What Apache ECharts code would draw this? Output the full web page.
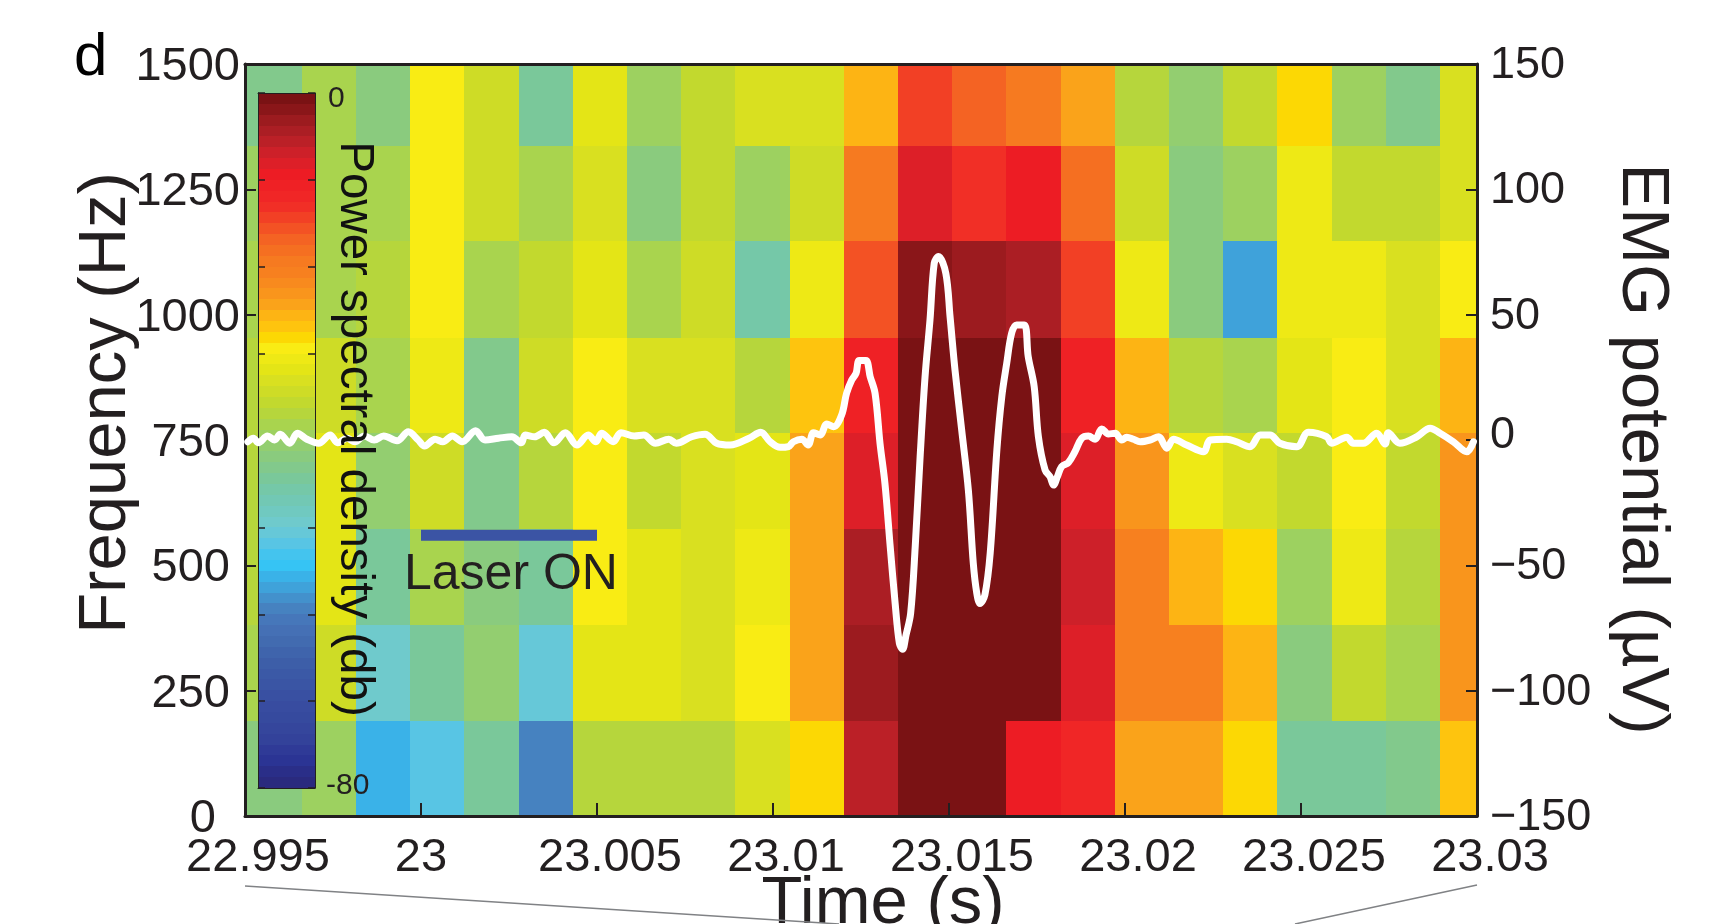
<!DOCTYPE html>
<html>
<head>
<meta charset="utf-8">
<style>html,body{margin:0;padding:0;background:#fff;overflow:hidden}#c{width:1733px;height:924px}</style>
<script src="https://cdn.jsdelivr.net/npm/echarts@6/dist/echarts.min.js"></script>
</head>
<body>
<div id="c"></div>
<script>
// Bin edges of the spectrogram
const timeEdges = [22.995,22.99661,22.99815,22.99969,23.00123,23.00277,23.00431,23.00585,23.00739,23.00893,23.01047,23.01201,23.01355,23.01509,23.01663,23.01817,23.01971,23.02125,23.02279,23.02433,23.02587,23.02741,23.02895,23.03];
const freqEdges = [0,190,381,572,763,954,1146,1337,1500];

// Power (dB) per frequency row, lowest row first, one value per time bin
const power0 = [-41.9,-39,-55.6,-52,-44,-59,-37,-37,-37,-33,-28.1,-5.6,-.6,-.6,-9.4,-12,-24.4,-24.4,-28.1,-44.4,-44.4,-42.5,-26.9];
const power1 = [-38,-34.4,-49.4,-44,-40.6,-50.6,-31.9,-31.9,-32.5,-29.4,-24,-3.1,-.6,-.6,-.6,-8,-21,-21,-25.6,-42,-35.6,-38,-23];
const power2 = [-37,-31.9,-44,-38,-41.5,-44,-29.4,-31.9,-32.5,-30.6,-24.4,-4.4,-.6,-.6,-.6,-6.9,-21,-25.6,-28.1,-39.4,-30.6,-37,-23];
const power3 = [-37,-31.9,-40.6,-34.4,-43,-37,-29.4,-35,-33,-31.9,-24.4,-8,-.6,-.6,-.6,-8,-23,-30.6,-33,-35.6,-29.4,-35.6,-23];
const power4 = [-37,-34,-38,-30,-43,-34.4,-29.4,-33,-33,-37,-26.9,-10.6,-.6,-.6,-.6,-10.6,-25.6,-37,-38,-31.9,-29.4,-33,-25.6];
const power5 = [-38,-38,-37,-29.4,-38,-35.6,-31.5,-38.5,-34.4,-45.6,-30.6,-15.6,-2,-3.1,-4.4,-14,-30.6,-42,-57,-30.6,-30.6,-33,-29.4];
const power6 = [-39,-38,-38,-29.4,-34.4,-38,-33,-42,-35.6,-39.4,-34,-19.4,-8,-12.5,-9.4,-18,-34.4,-42,-39.4,-30.6,-35.6,-35.6,-33];
const power7 = [-42.5,-38,-41.9,-29.4,-34.4,-44.4,-31.5,-39,-35.6,-33,-33,-25.6,-13.8,-17,-19.4,-24.4,-36.9,-40,-35.6,-28.1,-39.4,-43,-33];
const powerRows = [power0,power1,power2,power3,power4,power5,power6,power7];

// Colour bar bands, from 0 dB downward, 1.25 dB each
const colormap = ['#7a1214','#8a1619','#9c1b1f','#ab1e24','#bb2027','#cd2029','#dd1f28','#ed1c24',
'#ef2125','#f02626','#f12f26','#f24025','#f35224','#f46323','#f56f21','#f67a20',
'#f7801f','#f88a1e','#f9951c','#faa31a','#fdb414','#fec40e','#fcd804','#f9ec14',
'#eee915','#e4e516','#d9e020','#cedc26','#c2d92e','#b6d63c','#a9d44e','#9dd160',
'#93ce70','#8acb7e','#82c98c','#7ac89a','#75c8a8','#72c8b4','#70c9c0','#6fcacc',
'#66c8d8','#58c5e4','#44c4ee','#36c4f4','#3ab2e8','#3fa2da','#4391cc','#4682c0',
'#4677ba','#4570b5','#426bb0','#3f64ac','#3d5ea8','#3b59a6','#3a55a4','#3950a2',
'#384ca0','#364a9e','#35469c','#33429a','#2f3a97','#2b3494','#2a2e88','#2a2a7e'];
const bandStep = 1.25;

// EMG trace
const emgTime = [22.99508,22.99524,22.99538,22.99564,22.99584,22.996,22.99627,22.99649,22.99676,22.99709,22.99742,22.99763,22.9979,22.99812,22.99839,22.99867,22.99894,22.99932,22.99964,22.99992,23.0001,23.0004,23.00062,23.00089,23.00117,23.00155,23.00182,23.0022,23.00258,23.00285,23.00296,23.00323,23.0035,23.00378,23.0041,23.00443,23.00475,23.00497,23.00513,23.00546,23.00568,23.00606,23.00633,23.00666,23.00704,23.00725,23.00769,23.00807,23.0084,23.00878,23.00932,23.00965,23.00992,23.0102,23.01044,23.01058,23.01082,23.011,23.01115,23.01134,23.01153,23.01172,23.01195,23.01209,23.01224,23.01236,23.01245,23.01264,23.01276,23.0129,23.01304,23.01318,23.01333,23.01347,23.01359,23.01368,23.01378,23.01391,23.01404,23.01418,23.01432,23.01446,23.01458,23.0147,23.01491,23.01503,23.01517,23.01536,23.01555,23.01569,23.01579,23.01588,23.01602,23.01617,23.01636,23.0165,23.01664,23.01678,23.01692,23.01714,23.01725,23.01742,23.01754,23.01773,23.01787,23.01797,23.01808,23.0182,23.01839,23.01858,23.01877,23.01896,23.01915,23.01934,23.01953,23.01972,23.01991,23.02005,23.02024,23.02043,23.02071,23.02095,23.02119,23.02138,23.02175,23.02223,23.02242,23.02289,23.02317,23.02355,23.02384,23.02412,23.0244,23.02488,23.02521,23.02573,23.02587,23.0263,23.02649,23.02677,23.02715,23.02739,23.02748,23.02781,23.02829,23.02867,23.02895,23.02933,23.02971,23.0299];
const emgValue = [-.7,.7,-1.1,1.6,0,2.3,-1.3,2.7,.3,-1.3,2,-1.1,.7,-.7,1.6,0,1.6,-.3,3.3,0,-2.4,.3,-.7,1.6,-.7,3.7,0,.7,1.3,-1.1,2,1.3,3.1,-1.1,2.9,-2,2,-.7,2.7,-.7,2.9,1.6,2,-1.3,.3,-1.3,1.3,2.3,-1.3,-2,.7,3.1,-.7,-2.9,-2.6,-.7,.3,-2,2.9,2,6.4,5.3,10,18.6,24,26.6,31.7,31.7,25.3,18.6,-1.3,-17.3,-42.6,-65.2,-81.1,-83.5,-77.8,-69.2,-42.6,-6.6,25.3,47.9,70.5,73.2,66.5,49.2,28,4,-20,-49.2,-61.2,-65.2,-61.8,-45.2,-4,17.3,30.6,42.6,45.9,45.9,33.3,21.3,1.3,-12,-14.6,-18,-14.6,-10.6,-9,-4.6,.7,1.6,.3,4.4,2.4,2.7,0,1.1,.3,-.7,0,1.3,-3.3,.3,-2,-4.7,0,.3,-.7,-2.7,2,2,-1.3,-2.7,3.1,1.3,-1.3,1.1,-1.3,-1.3,2.7,-1.6,2.9,-1.3,1.3,4.7,2.7,-.7,-4.7,-.7];

// Laser pulse
const laserTime = [23,23.005];
const laserFreq = [560,560];

// Text
const freqLabel = 'Frequency (Hz)';
const emgLabel = 'EMG potential (µV)';
const timeLabel = 'Time (s)';
const powerLabel = 'Power spectral density (db)';
const laserLabel = 'Laser ON';
const panelLabel = 'd';

const ink = '#231f20';
const font = '"Liberation Sans", Arial, sans-serif';

const cellData = [];
powerRows.forEach((row, r) => row.forEach((v, c) => {
  cellData.push([timeEdges[c], timeEdges[c+1], freqEdges[r], freqEdges[r+1], v]);
}));
const barData = colormap.map((col, i) => [0, 1, -(i+1)*bandStep, -i*bandStep, i]);

function bandOf(v){ return colormap[Math.min(colormap.length-1, Math.floor(-v/bandStep))]; }

function renderCell(params, api){
  const p0 = api.coord([api.value(0), api.value(2)]);
  const p1 = api.coord([api.value(1), api.value(3)]);
  const x0 = Math.round(p0[0]), x1 = Math.round(p1[0]), y0 = Math.round(p0[1]), y1 = Math.round(p1[1]);
  return {type:'rect', shape:{x:x0, y:y1, width:x1-x0, height:y0-y1}, style:{fill:bandOf(api.value(4))}};
}
function renderBand(params, api){
  const p0 = api.coord([api.value(0), api.value(2)]);
  const p1 = api.coord([api.value(1), api.value(3)]);
  const y0 = Math.round(p0[1]), y1 = Math.round(p1[1]);
  return {type:'rect', shape:{x:p0[0], y:y1, width:p1[0]-p0[0], height:y0-y1}, style:{fill:colormap[api.value(4)]}};
}

const mainLine = {show:true, onZero:false, lineStyle:{color:ink, width:3}};
const option = {
  animation:false,
  backgroundColor:'#fff',
  textStyle:{fontFamily:font, color:ink},
  grid:[
    {left:245, top:64, width:1232, height:752, outerBoundsMode:'none'},
    {left:258, top:93, width:57, height:695, outerBoundsMode:'none'}
  ],
  xAxis:[
    {type:'value', gridIndex:0, position:'bottom', min:22.995, max:23.03, interval:0.005, z:4,
     axisLine:mainLine, axisTick:{show:true, inside:true, length:13, lineStyle:{color:ink, width:2}},
     splitLine:{show:false},
     axisLabel:{show:true, fontSize:47, color:ink, fontFamily:font, margin:19, hideOverlap:false,
       formatter:v => {const s = String(+v.toFixed(3)); return s === '23' ? s : '{o|'+s+'}';},
       rich:{o:{padding:[0,0,0,26]}}},
     name:timeLabel, nameLocation:'middle', nameGap:55, nameMoveOverlap:false,
     nameTextStyle:{fontSize:67, color:ink, fontFamily:font, padding:[0,0,0,44]}},
    {type:'value', gridIndex:0, position:'top', min:22.995, max:23.03, z:4,
     axisLine:mainLine, axisTick:{show:false}, axisLabel:{show:false}, splitLine:{show:false}},
    {type:'value', gridIndex:1, position:'bottom', min:0, max:1, z:3,
     axisLine:{show:true, onZero:false, lineStyle:{color:ink, width:1}}, axisTick:{show:false}, axisLabel:{show:false}, splitLine:{show:false}},
    {type:'value', gridIndex:1, position:'top', min:0, max:1, z:3,
     axisLine:{show:true, onZero:false, lineStyle:{color:ink, width:1}}, axisTick:{show:false}, axisLabel:{show:false}, splitLine:{show:false}}
  ],
  yAxis:[
    {type:'value', gridIndex:0, position:'left', min:0, max:1500, interval:250, z:4,
     axisLine:mainLine, axisTick:{show:true, inside:true, length:11, lineStyle:{color:ink, width:2}},
     splitLine:{show:false},
     axisLabel:{show:true, fontSize:47, color:ink, fontFamily:font, margin:5,
       formatter:v => v >= 1000 ? '{k|'+v+'}' : (v === 0 ? '{z|0}' : '{w|'+v+'}'),
       rich:{k:{padding:[6,0,0,0]}, w:{padding:[6,10,0,0]}, z:{padding:[6,24,0,0]}}},
     name:freqLabel, nameLocation:'middle', nameGap:105, nameRotate:90, nameMoveOverlap:false,
     nameTextStyle:{fontSize:67, color:ink, fontFamily:font, padding:[0,0,0,74]}},
    {type:'value', gridIndex:0, position:'right', min:-150, max:150, interval:50, z:4,
     axisLine:mainLine, axisTick:{show:true, inside:true, length:11, lineStyle:{color:ink, width:2}},
     splitLine:{show:false},
     axisLabel:{show:true, fontSize:45, color:ink, fontFamily:font, margin:13,
       formatter:v => v === 0 ? '{u|0}' : '{n|'+String(v).replace('-', '\u2212')+'}',
       rich:{u:{padding:[0,0,8,0]}, n:{padding:[3,0,0,0]}}},
     name:emgLabel, nameLocation:'middle', nameGap:131, nameRotate:-90, nameMoveOverlap:false,
     nameTextStyle:{fontSize:67, color:ink, fontFamily:font, padding:[0,0,0,18]}},
    {type:'value', gridIndex:1, position:'left', min:-80, max:0, interval:10, z:3,
     axisLine:{show:true, onZero:false, lineStyle:{color:ink, width:1}},
     axisTick:{show:true, inside:true, length:7, lineStyle:{color:ink, width:1.5}},
     axisLabel:{show:false}, splitLine:{show:false}},
    {type:'value', gridIndex:1, position:'right', min:-80, max:0, interval:10, z:3,
     axisLine:{show:true, onZero:false, lineStyle:{color:ink, width:1}},
     axisTick:{show:true, inside:true, length:7, lineStyle:{color:ink, width:1.5}},
     axisLabel:{show:true, fontSize:30, color:'#111', fontFamily:font, margin:11,
       formatter:v => v === 0 ? '{t|0}' : (v === -80 ? '{b|-80}' : ''),
       rich:{t:{padding:[12,0,0,2]}, b:{padding:[0,0,4,0]}}},
     splitLine:{show:false}}
  ],
  series:[
    {type:'custom', name:'Power', xAxisIndex:0, yAxisIndex:0, z:1, silent:true,
     renderItem:renderCell, data:cellData, encode:{x:[0,1], y:[2,3]}, clip:true},
    {type:'custom', name:'Colour bar', xAxisIndex:2, yAxisIndex:2, z:2, silent:true,
     renderItem:renderBand, data:barData, encode:{x:[0,1], y:[2,3]}},
    {type:'line', name:'Laser', xAxisIndex:0, yAxisIndex:0, z:5, symbol:'none', silent:true,
     data:laserTime.map((t,i)=>[t, laserFreq[i]]),
     lineStyle:{color:'#3b54a4', width:11, cap:'butt'}},
    {type:'line', name:'EMG', xAxisIndex:0, yAxisIndex:1, z:6, symbol:'none', silent:true, smooth:0.35,
     data:emgTime.map((t,i)=>[t, emgValue[i]]),
     lineStyle:{color:'#fff', width:7, cap:'round', join:'round'}}
  ],
  graphic:[
    {type:'text', z:20, left:74, top:28, style:{text:panelLabel, font:'60px '+font, fill:'#000'}},
    {type:'text', z:20, left:404, top:550, style:{text:laserLabel, font:'50px '+font, fill:ink}},
    {type:'text', z:20, x:354, y:429, rotation:-Math.PI/2,
     style:{text:powerLabel, font:'47.5px '+font, fill:'#111', align:'center', verticalAlign:'middle'}},
    {type:'line', z:20, shape:{x1:245, y1:886, x2:839, y2:924}, style:{stroke:'#808285', lineWidth:1.5}},
    {type:'line', z:20, shape:{x1:1477, y1:885, x2:1295, y2:924}, style:{stroke:'#808285', lineWidth:1.5}}
  ]
};
echarts.init(document.getElementById('c'), null, {renderer:'canvas'}).setOption(option);
</script>
</body>
</html>
